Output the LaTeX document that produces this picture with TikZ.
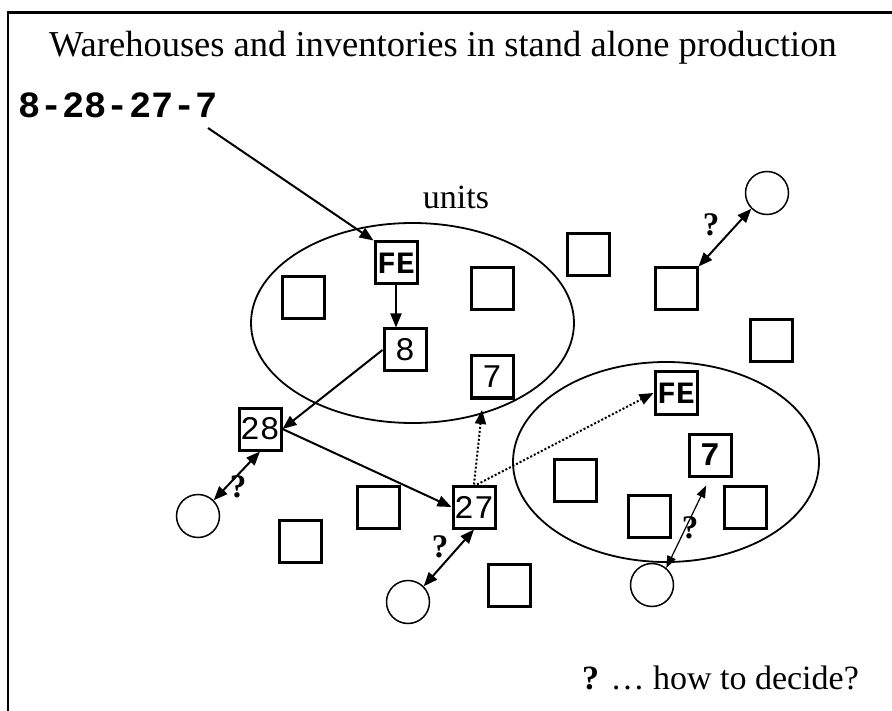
\documentclass[tikz,border=0pt]{standalone}
\usepackage{fontspec}
\setmainfont{Liberation Serif}
\setmonofont{Liberation Mono}
\usetikzlibrary{arrows.meta,shapes.geometric}
\begin{document}
\begin{tikzpicture}[x=1pt,y=-1pt,
  box/.style={draw, line width=3pt, minimum size=42pt, inner sep=0pt, font=\fontsize{33}{33}\selectfont\ttfamily},
  hub/.style={circle, draw, line width=1.5pt, minimum size=43pt, inner sep=0pt},
  oval/.style={ellipse, draw, line width=1.8pt, inner sep=0pt},
  arr/.style={line width=2pt, -{Triangle[length=14pt,width=11pt]}},
  darr/.style={line width=2pt, {Triangle[length=14pt,width=11pt]}-{Triangle[length=14pt,width=11pt]}},
  tdarr/.style={line width=1.2pt, {Triangle[length=12pt,width=9pt]}-{Triangle[length=12pt,width=9pt]}},
  dotarr/.style={line width=2pt, dotted, -{Triangle[length=14pt,width=11pt]}},
  qm/.style={font=\fontsize{33}{33}\selectfont\bfseries, inner sep=0pt},
  serif/.style={font=\fontsize{34}{34}\selectfont, inner sep=0pt}
]
\useasboundingbox (0,0) rectangle (892,711);
\fill[white] (0,0) rectangle (892,711);
\draw[line width=2.5pt] (8,720) -- (8,12.7) -- (900,12.7);

\node[font=\fontsize{36.5}{36.5}\selectfont, inner sep=0pt, anchor=base] (title) at (443,57) {Warehouses and inventories in stand alone production};
\node[font=\fontsize{37}{37}\selectfont\ttfamily\bfseries, anchor=base west, inner sep=0pt] (seq) at (18,118) {8-28-27-7};
\node[serif, anchor=base] (units) at (456,209) {units};

% ellipses
\node[oval, minimum width=323pt, minimum height=200pt] (E1) at (412.5,323) {};
\node[oval, minimum width=306pt, minimum height=200pt] (E2) at (666,462) {};

% boxes
\node[box, font=\fontsize{31}{31}\selectfont\ttfamily\bfseries] (FE1) at (396,263) {FE};
\node[box] (n8) at (405,350) {8};
\node[box] (e1a) at (303,298) {};
\node[box] (e1b) at (492,289) {};
\node[box] (n7a) at (492,377) {7};
\node[box] (n28) at (260,429) {28};
\node[box] (n27) at (474,507) {27};
\node[box] (e2) at (378,507) {};
\node[box] (e3) at (300,541) {};
\node[box] (e4) at (509,585) {};
\node[box] (e5) at (588,255) {};
\node[box] (e6) at (676,289) {};
\node[box] (e7) at (771,341) {};
\node[box, font=\fontsize{31}{31}\selectfont\ttfamily\bfseries] (FE2) at (676,393) {FE};
\node[box, font=\fontsize{33}{33}\selectfont\ttfamily\bfseries] (n7b) at (710,455) {7};
\node[box] (e8) at (575,480) {};
\node[box] (e9) at (649,516) {};
\node[box] (e10) at (745,507) {};

% circles
\node[hub] (c1) at (198,516) {};
\node[hub] (c2) at (408,602) {};
\node[hub] (c3) at (767,193) {};
\node[hub] (c4) at (652,585) {};

% connectors
\coordinate (s1) at (208,128);
\coordinate (t7) at (482,410);
\draw[arr] (s1) -- (FE1.north west);
\draw[arr] (FE1.south) -- (FE1.south |- n8.north);
\draw[arr] (n8.west) -- (n28.east);
\draw[arr] (n28.east) -- (n27.west);
\draw[darr] (n28.south) -- (c1.45);
\draw[darr] (n27.south) -- (c2.45);
\draw[darr] (e6.north east) -- (c3.225);
\draw[tdarr, shorten >=9pt] (c4.50) -- (n7b.south);
\draw[dotarr] (n27.north) -- (t7);
\draw[dotarr] ([xshift=3pt]n27.north) -- (FE2.west);

% question marks
\node[qm] (q1) at (238,487) {?};
\node[qm] (q2) at (440,547) {?};
\node[qm] (q3) at (711,225) {?};
\node[qm] (q4) at (690,528) {?};

\node[serif, anchor=base west] (note) at (582,689) {\textbf{?} \dots\ how to decide?};
\end{tikzpicture}
\end{document}
